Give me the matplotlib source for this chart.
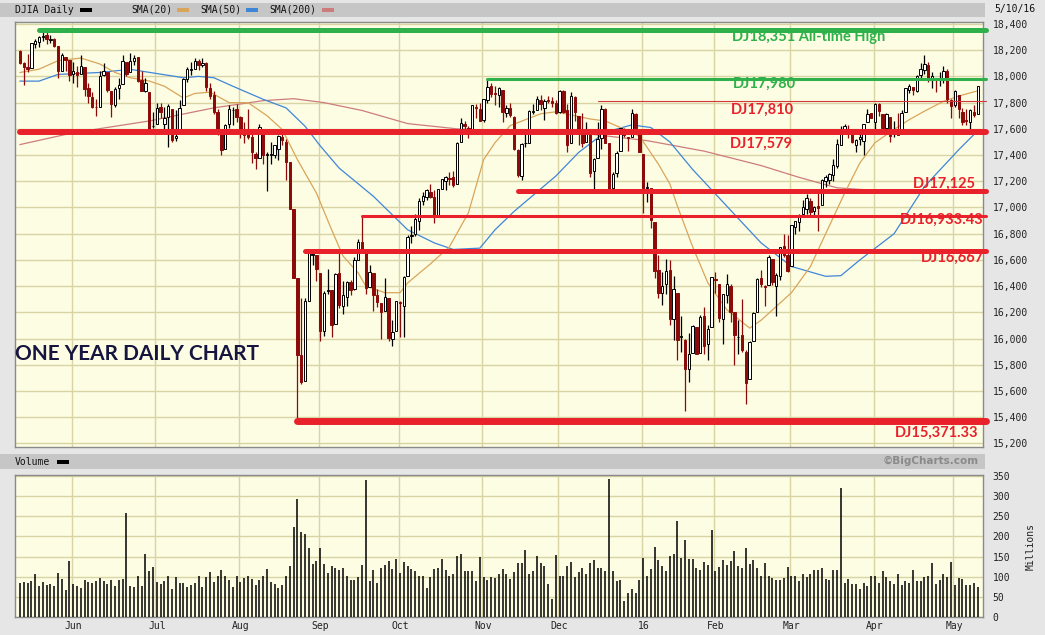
import matplotlib
matplotlib.use("Agg")
import matplotlib.pyplot as plt
from matplotlib.patches import Rectangle
import numpy as np
import pandas as pd

# ---- data (DJIA daily, 11 May 2015 - 10 May 2016) ----
HOLIDAYS = ["2015-05-25", "2015-07-03", "2015-09-07", "2015-11-26", "2015-12-25",
            "2016-01-01", "2016-01-18", "2016-02-15", "2016-03-25"]
dates = pd.bdate_range("2015-05-11", "2016-05-10")
dates = dates[~dates.isin(pd.to_datetime(HOLIDAYS))]

opens = [
    18191, 18102, 18070, 18062, 18250, 18264, 18300, 18315, 18280, 18282, 18229, 18045, 18150, 18126,
    18017, 18030, 18015, 18072, 17910, 17845, 17770, 17770, 18010, 18030, 17890, 17780, 17910, 17940,
    18110, 18030, 18120, 18145, 17970, 17890, 17880, 17620,
    17640, 17770, 17640, 17690, 17750, 17530, 17560, 17780, 17980, 18050, 18060, 18120, 18090, 18100,
    17915, 17855, 17730, 17560, 17450, 17640, 17740, 17750,
    17690, 17600, 17560, 17540, 17410, 17380, 17600, 17400, 17400, 17400, 17450, 17540, 17500, 17345,
    16990, 16459, 15872, 15676, 16285, 16640, 16640,
    16500, 16060, 16360, 16370, 16110, 16500, 16250, 16320, 16430, 16380, 16600, 16740, 16670, 16390,
    16500, 16330, 16270, 16210, 16310, 16000, 16060,
    16280, 16250, 16480, 16780, 16800, 16900, 17050, 17080, 17120, 17080, 16930, 17140, 17200, 17220,
    17230, 17180, 17500, 17640, 17610, 17580, 17770, 17750,
    17670, 17820, 17930, 17870, 17860, 17900, 17720, 17760, 17690, 17440, 17240, 17490, 17490, 17730,
    17740, 17820, 17760, 17820, 17810, 17800,
    17730, 17890, 17740, 17490, 17840, 17700, 17560, 17500, 17560, 17280, 17380, 17530, 17750, 17490,
    17150, 17260, 17430, 17590, 17540, 17540, 17710, 17590,
    17405, 17150, 17150, 16890, 16520, 16350, 16420, 16520, 16150, 16350, 16010, 15990, 15770, 15890,
    16090, 15890, 16170, 15960, 16090,
    16450, 16420, 16150, 16330, 16400, 16200, 16010, 16030, 15900, 15690, 15980, 16200, 16460, 16400,
    16410, 16610, 16400, 16480, 16710, 16640,
    16550, 16850, 16890, 16950, 16990, 17050, 16970, 17010, 17020, 17200, 17210, 17250, 17320, 17480,
    17590, 17600, 17580, 17480, 17520, 17510, 17650, 17720,
    17650, 17790, 17710, 17610, 17690, 17560, 17590, 17560, 17730, 17900, 17920, 17890, 18010, 18050,
    18090, 17990, 17990, 17980, 17990, 18040, 17820,
    17780, 17860, 17730, 17670, 17650, 17730, 17710,
]
highs = [
    18200, 18110, 18171, 18255, 18286, 18306, 18351, 18339, 18315, 18292, 18229, 18175, 18150, 18126,
    18111, 18081, 18163, 18072, 17950, 17880, 17830, 18039, 18100, 18030, 17890, 17920, 17990, 18160,
    18110, 18180, 18160, 18145, 18040, 17990, 17880, 17730,
    17800, 17800, 17770, 17790, 17750, 17740, 17820, 17990, 18070, 18110, 18140, 18130, 18140, 18110,
    17950, 17890, 17750, 17570, 17640, 17780, 17770, 17790,
    17700, 17650, 17750, 17560, 17420, 17640, 17600, 17420, 17500, 17480, 17550, 17560, 17520, 17345,
    16990, 16459, 16312, 16312, 16666, 16676, 16640,
    16500, 16360, 16530, 16370, 16500, 16660, 16440, 16440, 16450, 16620, 16760, 16933, 16670, 16560,
    16500, 16380, 16270, 16460, 16310, 16140, 16290,
    16290, 16480, 16790, 16860, 16950, 17070, 17120, 17140, 17180, 17130, 17140, 17220, 17240, 17270,
    17280, 17500, 17680, 17660, 17620, 17780, 17790, 17800,
    17830, 17980, 17950, 17930, 17920, 17900, 17780, 17800, 17700, 17450, 17490, 17600, 17740, 17790,
    17850, 17860, 17830, 17850, 17840, 17820,
    17900, 17900, 17790, 17880, 17850, 17700, 17720, 17650, 17560, 17380, 17650, 17780, 17760, 17490,
    17270, 17430, 17610, 17610, 17540, 17750, 17720, 17600,
    17405, 17195, 17150, 16890, 16640, 16510, 16610, 16600, 16480, 16350, 16170, 16000, 16040, 16100,
    16090, 16180, 16240, 16100, 16470,
    16510, 16420, 16340, 16490, 16420, 16200, 16140, 16300, 15910, 15980, 16200, 16460, 16520, 16410,
    16640, 16610, 16500, 16700, 16800, 16790,
    16870, 16900, 16950, 17060, 17100, 17070, 17010, 17130, 17220, 17250, 17260, 17370, 17520, 17620,
    17640, 17630, 17600, 17520, 17560, 17640, 17750, 17720,
    17800, 17800, 17710, 17720, 17690, 17660, 17720, 17740, 17910, 17940, 17920, 18010, 18100, 18167,
    18110, 18030, 17990, 18030, 18080, 18060, 17830,
    17900, 17860, 17760, 17750, 17750, 17780, 17930,
]
lows = [
    18093, 17935, 18034, 18062, 18215, 18226, 18270, 18248, 18256, 18225, 17990, 18040, 18041, 17966,
    17953, 17920, 18015, 17850, 17800, 17760, 17700, 17770, 18000, 17880, 17690, 17770, 17830, 17940,
    18000, 18030, 18090, 17960, 17890, 17880, 17590, 17610,
    17640, 17680, 17580, 17460, 17500, 17510, 17560, 17780, 17960, 18010, 18060, 18050, 18070, 17890,
    17830, 17710, 17550, 17400, 17450, 17610, 17630, 17650,
    17530, 17490, 17520, 17340, 17290, 17380, 17330, 17125, 17330, 17380, 17360, 17480, 17210, 16990,
    16460, 15370, 15651, 15676, 16285, 16560, 16440,
    15980, 16020, 16340, 16010, 16110, 16230, 16190, 16250, 16330, 16370, 16600, 16650, 16340, 16390,
    16210, 16240, 16000, 16210, 15980, 15940, 16060,
    16010, 16013, 16480, 16730, 16780, 16830, 17020, 17060, 17070, 16880, 16930, 17140, 17130, 17170,
    17160, 17180, 17500, 17580, 17530, 17560, 17680, 17660,
    17650, 17800, 17840, 17780, 17770, 17650, 17690, 17690, 17440, 17230, 17210, 17460, 17490, 17710,
    17740, 17740, 17670, 17800, 17770, 17710,
    17720, 17720, 17420, 17490, 17660, 17480, 17460, 17500, 17230, 17120, 17380, 17450, 17490, 17130,
    17130, 17230, 17430, 17540, 17430, 17540, 17590, 17420,
    16960, 17040, 16840, 16460, 16310, 16260, 16340, 16100, 15990, 15840, 15900, 15451, 15670, 15890,
    15880, 15890, 15880, 15840, 16090,
    16350, 16130, 15960, 16270, 16130, 15800, 15880, 15900, 15503, 15690, 15980, 16200, 16390, 16250,
    16410, 16410, 16170, 16450, 16620, 16510,
    16550, 16800, 16820, 16940, 16950, 16930, 16930, 16820, 17020, 17160, 17180, 17200, 17300, 17480,
    17570, 17530, 17490, 17420, 17480, 17400, 17650, 17680,
    17570, 17700, 17580, 17580, 17500, 17540, 17550, 17560, 17730, 17870, 17860, 17880, 17980, 18020,
    17960, 17910, 17880, 17930, 17950, 17800, 17680,
    17770, 17680, 17630, 17630, 17580, 17690, 17710,
]
closes = [
    18105, 18068, 18060, 18252, 18272, 18298, 18312, 18285, 18285, 18232, 18042, 18163, 18126, 18011,
    18040, 18011, 18076, 17905, 17849, 17766, 17765, 18000, 18039, 17899, 17792, 17905, 17935, 18115,
    18016, 18120, 18144, 17967, 17891, 17947, 17597, 17620,
    17758, 17731, 17684, 17777, 17516, 17549, 17761, 17978, 18054, 18050, 18121, 18087, 18101, 17920,
    17852, 17732, 17569, 17441, 17631, 17751, 17746, 17690,
    17599, 17551, 17541, 17420, 17374, 17615, 17403, 17403, 17409, 17477, 17546, 17512, 17349, 16990,
    16460, 15871, 15666, 16285, 16655, 16643, 16528,
    16058, 16351, 16374, 16102, 16492, 16253, 16330, 16433, 16370, 16599, 16739, 16675, 16384, 16510,
    16330, 16279, 16201, 16314, 16001, 16049, 16284,
    16272, 16472, 16776, 16790, 16912, 17050, 17084, 17131, 17081, 16924, 17141, 17215, 17230, 17217,
    17168, 17489, 17646, 17623, 17581, 17779, 17756, 17663,
    17828, 17918, 17868, 17863, 17910, 17730, 17758, 17703, 17449, 17245, 17484, 17490, 17737, 17732,
    17824, 17792, 17812, 17813, 17798, 17720,
    17888, 17730, 17478, 17848, 17731, 17568, 17493, 17575, 17265, 17369, 17525, 17750, 17495, 17128,
    17252, 17418, 17603, 17553, 17528, 17721, 17604, 17425,
    17149, 17158, 16907, 16515, 16347, 16399, 16517, 16152, 16379, 15988, 16016, 15767, 15882, 16094,
    15886, 16167, 15944, 16070, 16466,
    16449, 16154, 16337, 16417, 16205, 16027, 16014, 15915, 15660, 15974, 16196, 16454, 16414, 16392,
    16620, 16432, 16485, 16698, 16640, 16517,
    16866, 16900, 16944, 17007, 17074, 16965, 17001, 16996, 17213, 17229, 17252, 17326, 17481, 17602,
    17624, 17583, 17503, 17516, 17535, 17634, 17717, 17685,
    17793, 17737, 17604, 17717, 17542, 17577, 17556, 17721, 17908, 17926, 17897, 18004, 18053, 18096,
    17983, 18003, 17977, 17991, 18041, 17830, 17774,
    17891, 17750, 17651, 17661, 17740, 17705, 17928,
]
# volume, millions
volume = [
    84, 86, 84, 89, 106, 76, 86, 79, 81, 76, 108, 94, 66, 138,
    83, 76, 71, 91, 86, 84, 89, 96, 89, 81, 91, 76, 91, 94, 257, 76, 74, 103, 76, 156, 113, 123,
    86, 81, 89, 103, 69, 99, 84, 84, 74, 79, 84, 103, 74, 99, 111, 86, 101, 116, 101, 91, 74, 103,
    86, 96, 101, 94, 79, 91, 101, 118, 86, 81, 71, 79, 103, 126, 223, 292, 210, 205, 171, 131,
    138, 171, 131, 108, 126, 121, 116, 121, 103, 91, 91, 99, 128, 339, 89, 116, 84, 121, 128, 138, 118,
    143, 108, 136, 126, 118, 113, 101, 101, 71, 99, 118, 121, 143, 116, 103, 106, 151, 156, 113, 113, 113, 89,
    148, 99, 91, 99, 96, 106, 118, 106, 94, 111, 133, 135, 166, 106, 113, 151, 133, 126, 81, 44,
    153, 101, 101, 126, 136, 99, 111, 121, 106, 133, 141, 121, 121, 113, 342, 113, 89, 91, 39, 59, 69, 59, 91,
    146, 103, 118, 175, 141, 126, 113, 151, 156, 238, 146, 190, 143, 143, 121, 116, 136, 128, 215,
    113, 123, 141, 128, 138, 163, 126, 121, 171, 131, 141, 121, 103, 133, 101, 96, 91, 91, 96, 123,
    103, 103, 89, 106, 99, 106, 116, 116, 121, 94, 91, 116, 116, 320, 84, 94, 81, 81, 69, 84, 76,
    101, 103, 84, 113, 99, 89, 81, 106, 79, 89, 84, 116, 89, 89, 99, 101, 133, 81, 91, 106, 99, 136,
    79, 96, 94, 79, 79, 84, 74,
]

# moving averages (trading-day number, value)
sma20_day = [0, 5, 10, 16, 21, 25, 29, 34, 38, 43, 46, 50, 55, 60, 65, 69, 73, 78, 82, 85, 89, 91, 96,
             100, 102, 108, 113, 118, 122, 125, 129, 137, 141, 146, 150, 154, 158, 163, 168, 171, 173,
             177, 181, 186, 192, 195, 199, 203, 208, 212, 217, 221, 225, 230, 234, 238, 243, 247, 252]
sma20_val = [18030, 18055, 18120, 18140, 18095, 18030, 17990, 17965, 17925, 17835, 17870, 17880, 17800,
             17800, 17700, 17595, 17365, 17110, 16830, 16630, 16500, 16400, 16350, 16350, 16425, 16570,
             16700, 16960, 17365, 17495, 17625, 17715, 17730, 17700, 17675, 17660, 17610, 17545, 17330,
             17180, 17010, 16700, 16425, 16220, 16080, 16140, 16245, 16350, 16550, 16800, 17110, 17340,
             17495, 17595, 17670, 17735, 17810, 17850, 17890]
sma50_day = [0, 5, 10, 21, 29, 32, 43, 47, 51, 56, 64, 70, 75, 79, 84, 93, 102, 109, 114, 121, 125,
             130, 141, 147, 154, 161, 166, 171, 177, 186, 195, 203, 212, 216, 221, 230, 238, 247, 252]
sma50_val = [17964, 17964, 18015, 18030, 18054, 18040, 17990, 18000, 17990, 17925, 17825, 17760, 17620,
             17470, 17300, 17085, 16830, 16730, 16680, 16690, 16830, 16970, 17240, 17420, 17575, 17630,
             17610, 17500, 17290, 17010, 16730, 16550, 16475, 16480, 16600, 16800, 17160, 17440, 17585]
sma200_day = [0, 14, 34, 51, 64, 72, 80, 90, 102, 115, 130, 150, 165, 180, 195, 205, 215, 230, 245, 252]
sma200_val = [17480, 17570, 17660, 17760, 17815, 17830, 17800, 17740, 17640, 17600, 17580, 17560, 17510,
              17430, 17320, 17230, 17150, 17120, 17120, 17130]

# hand-drawn support / resistance levels: (value, label, start date, colour, width)
levels = [
    (18351, "DJ18,351 All-time High", "2015-05-18", "green", 3.6),
    (17980, "DJ17,980", "2015-11-03", "green", 2.2),
    (17810, "DJ17,810", "2015-12-15", "thin", 0.8),
    (17579, "DJ17,579", "2015-05-11", "red", 4.3),
    (17125, "DJ17,125", "2015-11-13", "red", 3.6),
    (16933.43, "DJ16,933.43", "2015-09-17", "red", 2.2),
    (16667, "DJ16,667", "2015-08-26", "red", 3.6),
    (15371.33, "DJ15,371.33", "2015-08-24", "red", 5.0),
]

assert len(dates) == len(opens) == len(highs) == len(lows) == len(closes) == len(volume)

W, H = 1045, 635
BG = "#e6e6e6"
PANEL = "#fdfde4"
GRID = "#d8d4a4"
GREEN = "#2eb14b"
RED = "#e8212b"
DARKRED = "#8c0a0a"
MONO = "DejaVu Sans Mono"


def fx(x):
    return x / W


def fy(y):
    return 1 - y / H


fig = plt.figure(figsize=(W / 100, H / 100), dpi=100, facecolor=BG)

# header bars
fig.patches.append(Rectangle((0, fy(17)), fx(985), 14 / H, transform=fig.transFigure,
                             facecolor="#c6c6c6", edgecolor="none", zorder=0))
fig.patches.append(Rectangle((0, fy(469)), fx(985), 15 / H, transform=fig.transFigure,
                             facecolor="#c6c6c6", edgecolor="none", zorder=0))

ax = fig.add_axes([fx(15), fy(447), fx(968), 425 / H], facecolor=PANEL)
axv = fig.add_axes([fx(15), fy(617), fx(968), 142 / H], facecolor=PANEL, sharex=ax)

n = len(dates)
x = np.arange(n)
month_start = [i for i in range(n) if i == 0 or dates[i].month != dates[i - 1].month][1:]
month_lbl = ["16" if dates[i].month == 1 else dates[i].strftime("%b") for i in month_start]

o = np.array(opens, float)
h = np.array(highs, float)
l = np.array(lows, float)
c = np.array(closes, float)
up = c >= o

# wicks
ax.vlines(x[up], l[up], h[up], color="black", lw=0.9, zorder=3)
ax.vlines(x[~up], l[~up], h[~up], color=DARKRED, lw=0.9, zorder=3)
# bodies
body = np.maximum(np.abs(c - o), 5)
ax.bar(x[up], body[up], bottom=np.minimum(o, c)[up], width=0.62, color="white",
       edgecolor="black", linewidth=0.7, zorder=4)
ax.bar(x[~up], body[~up], bottom=np.minimum(o, c)[~up], width=0.62, color=DARKRED,
       edgecolor=DARKRED, linewidth=0.7, zorder=4)

# moving averages
ax.plot(sma200_day, sma200_val, color="#cc7c7c", lw=0.9, zorder=2)
ax.plot(sma50_day, sma50_val, color="#3f86d8", lw=0.9, zorder=2)
ax.plot(sma20_day, sma20_val, color="#d9a55a", lw=0.9, zorder=2)

xmin, xmax = -1.32, 253.4
ax.set_xlim(xmin, xmax)
ax.set_ylim(15173, 18415)

# level lines + labels
date_idx = {d.strftime("%Y-%m-%d"): i for i, d in enumerate(dates)}
for val, lbl, start, col, lw in levels:
    colour = {"green": GREEN, "red": RED, "thin": "#d23a3a"}[col]
    ax.hlines(val, date_idx[start], xmax + 0.8, color=colour, lw=lw, zorder=6,
              capstyle="round", clip_on=False)

lab_font = dict(family="Lato", fontweight="bold", fontsize=10.5)
fig.text(fx(732), fy(37), "DJ18,351 All-time High", color=GREEN, va="center", ha="left", **lab_font)
fig.text(fx(733), fy(84), "DJ17,980", color=GREEN, va="center", ha="left", **lab_font)
fig.text(fx(731), fy(110), "DJ17,810", color=RED, va="center", ha="left", **lab_font)
fig.text(fx(730), fy(144), "DJ17,579", color=RED, va="center", ha="left", **lab_font)
fig.text(fx(976), fy(184), "DJ17,125", color=RED, va="center", ha="right", **lab_font)
fig.text(fx(984), fy(220), "DJ16,933.43", color=RED, va="center", ha="right", **lab_font)
fig.text(fx(984), fy(258), "DJ16,667", color=RED, va="center", ha="right", **lab_font)
fig.text(fx(979), fy(433), "DJ15,371.33", color=RED, va="center", ha="right", **lab_font)

fig.text(fx(15), fy(354), "ONE YEAR DAILY CHART", color="#15153f", family="Lato",
         fontweight="bold", fontsize=15, va="center", ha="left")

# volume
axv.vlines(x, 0, volume, color="black", lw=1.1, zorder=3)
axv.set_ylim(0, 352.5)

# grids / ticks
for a in (ax, axv):
    for i in month_start:
        a.axvline(i - 0.4, color=GRID, lw=1, zorder=1)
    for s in a.spines.values():
        s.set_color("#8a8a8a")
        s.set_linewidth(1)
    a.yaxis.tick_right()
    a.tick_params(axis="y", length=0, pad=7, labelsize=7, labelcolor="#222")
    for t in a.get_yticklabels():
        t.set_family(MONO)

ax.set_yticks(np.arange(15200, 18401, 200))
ax.set_yticklabels([f"{v:,}" for v in range(15200, 18401, 200)], family=MONO)
ax.grid(axis="y", color=GRID, lw=1, zorder=1)
ax.tick_params(axis="x", length=0, labelbottom=False)

axv.set_yticks(np.arange(0, 351, 50))
axv.set_yticklabels([str(v) for v in range(0, 351, 50)], family=MONO)
axv.grid(axis="y", color=GRID, lw=1, zorder=1)
axv.set_xticks(month_start)
axv.set_xticklabels(month_lbl, family=MONO, fontsize=7, color="#222")
axv.tick_params(axis="x", length=0, pad=3)

fig.text(fx(1031), fy(546), "Millions", rotation=90, family=MONO, fontsize=7,
         color="#222", ha="center", va="center")

# header legend
fig.text(fx(15), fy(10), "DJIA Daily", family=MONO, fontsize=7, color="#111", va="center")
swatches = [(80, "#000000"), (177, "#d9a55a"), (246, "#3f86d8"), (322, "#cc7c7c")]
for sx, sc in swatches:
    fig.patches.append(Rectangle((fx(sx), fy(11.5)), 12 / W, 3.5 / H, transform=fig.transFigure,
                                 facecolor=sc, edgecolor="none"))
fig.text(fx(131), fy(10), "SMA(20)", family=MONO, fontsize=7, color="#111", va="center")
fig.text(fx(200), fy(10), "SMA(50)", family=MONO, fontsize=7, color="#111", va="center")
fig.text(fx(269), fy(10), "SMA(200)", family=MONO, fontsize=7, color="#111", va="center")
fig.text(fx(1035), fy(9), dates[-1].strftime("%-m/%-d/%y"), family=MONO, fontsize=7,
         color="#111", va="center", ha="right")

fig.text(fx(15), fy(462), "Volume", family=MONO, fontsize=7, color="#111", va="center")
fig.patches.append(Rectangle((fx(57), fy(463.5)), 12 / W, 3.5 / H, transform=fig.transFigure,
                             facecolor="black", edgecolor="none"))
fig.text(fx(979), fy(461), "\u00a9BigCharts.com", family="DejaVu Sans", fontweight="bold",
         fontsize=7.5, color="#8a8a8a", va="center", ha="right")

fig.savefig("out.png", dpi=100, facecolor=BG)
